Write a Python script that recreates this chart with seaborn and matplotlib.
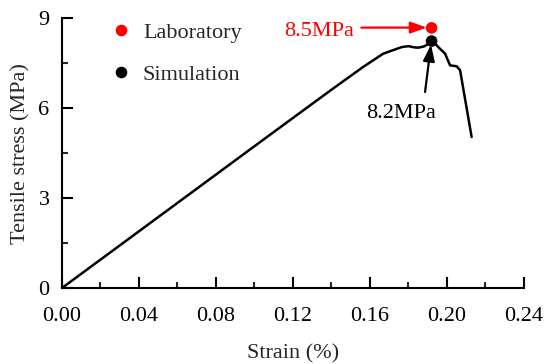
import matplotlib
matplotlib.use("Agg")
import matplotlib.pyplot as plt
import pandas as pd
import seaborn as sns
from matplotlib.ticker import MultipleLocator, FormatStrFormatter

sns.set_theme(style="ticks")
plt.rcParams["font.family"] = ["Liberation Serif", "DejaVu Serif"]

# simulated stress-strain curve
strain = [0.0, 0.1046, 0.1392, 0.1565, 0.1669, 0.1765,
          0.1800, 0.1830, 0.1851, 0.1880, 0.1905, 0.1920, 0.1935, 0.1955,
          0.1990, 0.2016, 0.2050, 0.2068, 0.2128]
stress = [0.0, 4.95, 6.58, 7.38, 7.82, 8.04,
          8.07, 8.03, 8.02, 8.06, 8.15, 8.24, 8.18, 8.04,
          7.82, 7.43, 7.40, 7.27, 5.04]

# peak points
peak_strain = [0.192, 0.192]
peak_stress = [8.68, 8.24]
peak_source = ["Laboratory", "Simulation"]

curve = pd.DataFrame({"strain": strain, "stress": stress})
peaks = pd.DataFrame({"strain": peak_strain, "stress": peak_stress, "source": peak_source})

fig = plt.figure(figsize=(5.5, 3.64), dpi=100)
ax = fig.add_axes([0.1127, 0.2088, 0.84, 0.7409])

sns.lineplot(data=curve, x="strain", y="stress", color="black", lw=1.8,
             sort=False, estimator=None, legend=False, ax=ax)
sns.scatterplot(data=peaks, x="strain", y="stress", hue="source",
                palette={"Laboratory": "#ff0000", "Simulation": "black"},
                s=70, edgecolor="none", zorder=5, ax=ax)

ax.set_xlim(0, 0.24)
ax.set_ylim(0, 9)
ax.xaxis.set_major_locator(MultipleLocator(0.04))
ax.xaxis.set_minor_locator(MultipleLocator(0.02))
ax.yaxis.set_major_locator(MultipleLocator(3))
ax.yaxis.set_minor_locator(MultipleLocator(1.5))
ax.xaxis.set_major_formatter(FormatStrFormatter("%.2f"))
ax.tick_params(which="major", direction="in", length=8, width=1.5, labelsize=16,
               colors="black")
ax.tick_params(which="minor", direction="in", length=4, width=1.5)
ax.tick_params(axis="x", which="major", pad=14)
ax.tick_params(axis="y", which="major", pad=9)
for side in ["top", "right"]:
    ax.spines[side].set_visible(False)
for side in ["left", "bottom"]:
    ax.spines[side].set_linewidth(1.5)
    ax.spines[side].set_color("black")

ax.set_xlabel("Strain (%)", fontsize=16, labelpad=13)
ax.set_ylabel("Tensile stress (MPa)", fontsize=16, labelpad=6)

# annotations
ax.annotate("", xy=(0.1895, 8.69), xytext=(0.1555, 8.69),
            arrowprops=dict(arrowstyle="-|>,head_length=0.7,head_width=0.25",
                            color="#ff0000", lw=1.6, mutation_scale=14,
                            shrinkA=0, shrinkB=0))
ax.text(0.1335, 8.55, "8.5MPa", color="#ff0000", fontsize=16, ha="center", va="center")
ax.annotate("", xy=(0.1917, 8.12), xytext=(0.1886, 6.54),
            arrowprops=dict(arrowstyle="-|>,head_length=0.7,head_width=0.25",
                            color="black", lw=1.6, mutation_scale=14,
                            shrinkA=0, shrinkB=0))
ax.text(0.1762, 5.83, "8.2MPa", color="black", fontsize=16, ha="center", va="center")

ax.legend(loc="upper left", bbox_to_anchor=(0.055, 1.06), frameon=False, fontsize=16,
          handletextpad=0.4, labelspacing=0.98, markerscale=1.0, handlelength=1.2)

fig.savefig("out.png", dpi=100)
